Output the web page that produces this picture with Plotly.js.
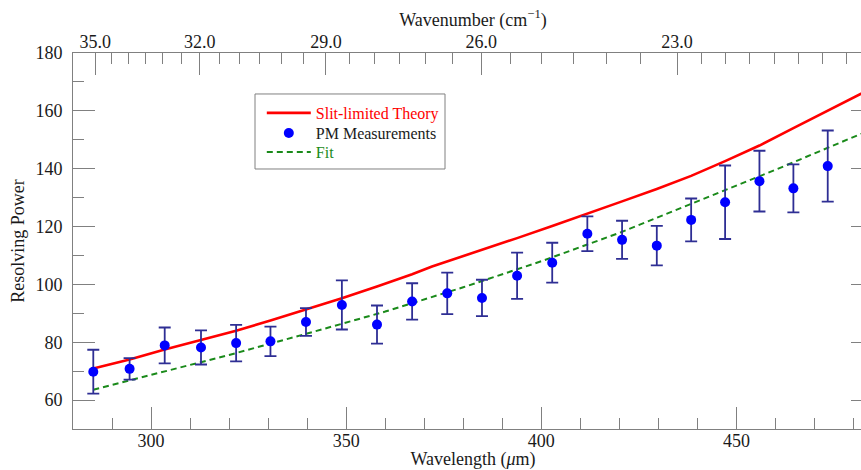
<!DOCTYPE html>
<html><head><meta charset="utf-8">
<script src="https://cdn.plot.ly/plotly-3.0.1.min.js"></script>
<style>html,body{margin:0;padding:0;overflow:hidden;background:#fff}#chart{width:873px;height:470px}</style>
</head><body><div id="chart"></div>
<script>
// Measured resolving power (PM Measurements)
const wavelength = [285.2, 294.5, 303.5, 312.8, 321.8, 330.6, 339.7, 348.9, 357.9, 366.9, 375.9,
                    384.8, 393.8, 402.8, 411.8, 420.7, 429.6, 438.4, 447.1, 455.9, 464.6, 473.4];
const measured   = [69.8, 70.8, 78.9, 78.2, 79.7, 80.3, 87.0, 92.9, 86.1, 94.1, 96.9,
                    95.3, 103.0, 107.5, 117.5, 115.4, 113.4, 122.3, 128.4, 135.7, 133.2, 140.9];
const measuredErr = [7.6, 3.7, 6.2, 5.9, 6.3, 5.1, 4.8, 8.5, 6.6, 6.3, 7.2,
                     6.3, 8.0, 6.9, 6.0, 6.6, 6.8, 7.4, 12.7, 10.5, 8.3, 12.3];
// Slit-limited theory curve
const theoryWavelength = [285.2, 294.5, 303.5, 312.8, 321.8, 330.6, 339.7, 348.9, 357.9, 366.9, 372.0,
                          384.8, 393.8, 402.8, 411.8, 420.7, 429.6, 438.4, 447.1, 455.9, 464.6, 473.4, 482.1, 485.0];
const theoryPower      = [70.9, 74.0, 77.5, 80.8, 84.0, 87.5, 91.2, 95.2, 99.3, 103.5, 106.2,
                          111.9, 116.0, 120.2, 124.4, 128.7, 133.0, 137.5, 142.6, 148.0, 154.0, 160.0, 165.9, 168.0];
// Fit curve
const fitWavelength = [285.2, 300, 320, 340, 360, 380, 400, 420, 440, 460, 485];
const fitPower      = [63.6, 68.6, 75.6, 83.0, 90.6, 99.0, 108.0, 117.8, 128.6, 139.6, 153.8];
// Axis ticks
const wavelengthTicks = [300, 350, 400, 450];
const powerTicks = [60, 80, 100, 120, 140, 160, 180];
const wavenumberMajor = [35, 32, 29, 26, 23];
const wavenumberLabels = ['35.0', '32.0', '29.0', '26.0', '23.0'];
const wavenumberMinor = [34.5, 34, 33.5, 33, 32.5, 31.5, 31, 30.5, 30, 29.5, 28.5, 28, 27.5, 27, 26.5,
                         25.5, 25, 24.5, 24, 23.5, 22.674, 22.358, 22.055, 21.756, 21.469, 21.184, 20.911];

const FONT = 'Liberation Serif, Times New Roman, serif';
const AX = '#808080';
const toWl = k => 10000 / k;

const traces = [
  {x: theoryWavelength, y: theoryPower, mode: 'lines', type: 'scatter',
   name: '<span style="color:#ff0000">Slit-limited Theory</span>',
   line: {color: '#ff0000', width: 2.6}, legend: 'legend', hoverinfo: 'skip'},
  {x: fitWavelength, y: fitPower, mode: 'lines', type: 'scatter',
   name: '<span style="color:#1a8a1a">Fit</span>',
   line: {color: '#1a8a1a', width: 2, dash: '6px,4px'}, legend: 'legend3', hoverinfo: 'skip'},
  {x: wavelength, y: measured, mode: 'markers', type: 'scatter',
   name: 'PM Measurements',
   marker: {color: '#0000ff', size: 10},
   error_y: {type: 'data', array: measuredErr, visible: true, color: '#2e2e94', thickness: 1.8, width: 6},
   legend: 'legend2'},
  {x: [], y: [], xaxis: 'x2', yaxis: 'y', showlegend: false, type: 'scatter', mode: 'lines'}
];

const legendBase = {x: 0.236, xanchor: 'left', yanchor: 'middle', bgcolor: 'rgba(0,0,0,0)',
  borderwidth: 0, font: {family: FONT, size: 16, color: '#1a1a1a'}, itemwidth: 44};

const layout = {
  width: 873, height: 470,
  margin: {l: 73, r: 0, t: 53, b: 41},
  paper_bgcolor: '#fff', plot_bgcolor: '#fff',
  font: {family: FONT, size: 18, color: '#1a1a1a'},
  showlegend: true,
  legend:  Object.assign({}, legendBase, {y: 0.8404}),
  legend2: Object.assign({}, legendBase, {y: 0.7872}),
  legend3: Object.assign({}, legendBase, {y: 0.7367}),
  shapes: [{type: 'rect', xref: 'paper', yref: 'paper', x0: 0.2275, x1: 0.465, y0: 0.6915, y1: 0.891,
            line: {color: '#808080', width: 1}, fillcolor: 'rgba(0,0,0,0)'}],
  xaxis: {
    range: [280, 485], tickmode: 'array', tickvals: wavelengthTicks,
    ticks: 'inside', ticklen: 22, tickwidth: 1, tickcolor: AX,
    minor: {tickmode: 'linear', tick0: 280, dtick: 10, ticks: 'inside', ticklen: 11, tickwidth: 1, tickcolor: AX},
    showline: true, linecolor: AX, linewidth: 1, showgrid: false, zeroline: false,
    tickfont: {size: 18}, ticklabelstandoff: -5,
    title: {text: 'Wavelength (<i>μ</i>m)', font: {size: 18}, standoff: 9}
  },
  xaxis2: {
    overlaying: 'x', side: 'top', anchor: 'y', range: [280, 485],
    tickmode: 'array', tickvals: wavenumberMajor.map(toWl), ticktext: wavenumberLabels,
    ticks: 'inside', ticklen: 22, tickwidth: 1, tickcolor: AX,
    minor: {tickmode: 'array', tickvals: wavenumberMinor.map(toWl), ticks: 'inside', ticklen: 11, tickwidth: 1, tickcolor: AX},
    showline: true, linecolor: AX, linewidth: 1, showgrid: false, zeroline: false,
    tickfont: {size: 18}, ticklabelstandoff: -3,
    title: {text: 'Wavenumber (cm<sup>−1</sup>)', font: {size: 18}, standoff: 0}
  },
  yaxis: {
    range: [50, 180], tickmode: 'array', tickvals: powerTicks,
    ticks: 'inside', ticklen: 22, tickwidth: 1, tickcolor: AX,
    minor: {tickmode: 'linear', tick0: 50, dtick: 10, ticks: 'inside', ticklen: 11, tickwidth: 1, tickcolor: AX},
    showline: true, linecolor: AX, linewidth: 1, mirror: 'ticks', showgrid: false, zeroline: false,
    tickfont: {size: 18}, ticklabelstandoff: 6,
    title: {text: 'Resolving Power', font: {size: 18}, standoff: 6}
  }
};

Plotly.newPlot('chart', traces, layout, {displayModeBar: false, staticPlot: true});
</script>
</body></html>
